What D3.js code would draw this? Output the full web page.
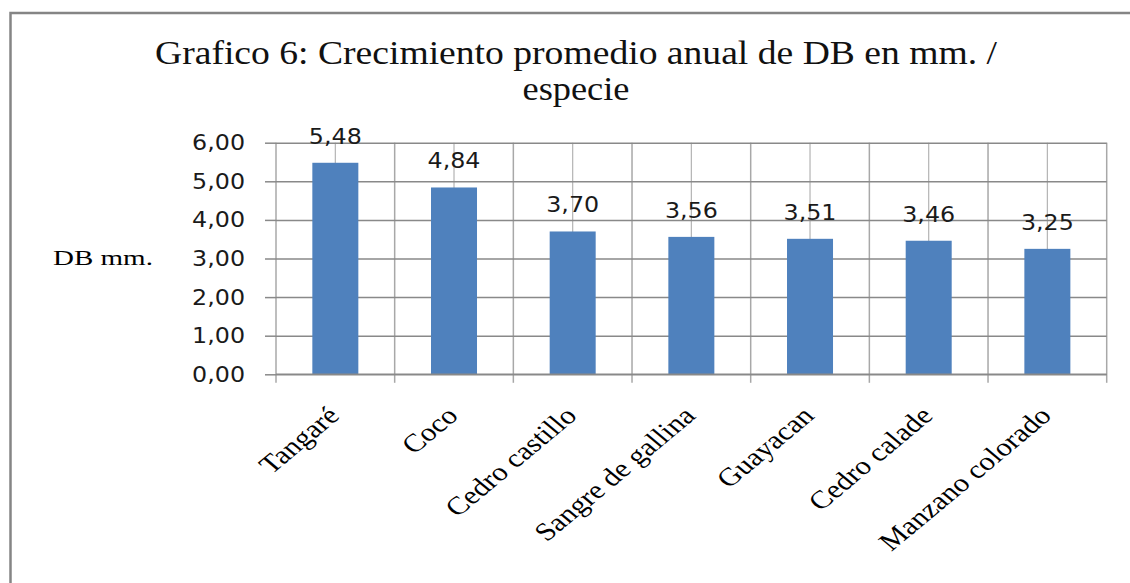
<!DOCTYPE html>
<html><head><meta charset="utf-8">
<script src="https://cdn.jsdelivr.net/npm/d3@7"></script>
<style>body{margin:0;background:#fff}</style>
</head><body><svg id="c" width="1130" height="583"></svg>
<script>
const categories = ["Tangaré","Coco","Cedro castillo","Sangre de gallina","Guayacan","Cedro calade","Manzano colorado"];
const values = [5.48,4.84,3.70,3.56,3.51,3.46,3.25];
const yTicks = [0,1,2,3,4,5,6];
const titleLines = ["Grafico 6: Crecimiento promedio anual de DB en mm. /","especie"];
const yTitle = "DB mm.";

const svg = d3.select("#c");
svg.append("rect").attr("width",1130).attr("height",583).attr("fill","#fff");
svg.append("path").attr("d","M10.5,583 V13 H1130").attr("fill","none").attr("stroke","#858585").attr("stroke-width",2.5);

const x = d3.scaleBand().domain(categories).range([276,1106.7]).padding(0);
const y = d3.scaleLinear().domain([0,6]).range([374.3,142.7]);
const fmt = v => d3.format(".2f")(v).replace(".",",");
const [x0,x1] = x.range();

function stretch(sel, f){
  sel.each(function(){
    const L = this.getComputedTextLength();
    d3.select(this).attr("textLength", L*f).attr("lengthAdjust","spacingAndGlyphs");
  });
}

// vertical gridlines at band centers
svg.append("g").selectAll("line").data(categories).join("line")
  .attr("x1",d=>x(d)+x.bandwidth()/2).attr("x2",d=>x(d)+x.bandwidth()/2)
  .attr("y1",y(6)).attr("y2",y(0)).attr("stroke","#b4b4b4").attr("stroke-width",1.2);
// vertical boundaries with tick marks
const bounds = categories.map(c=>x(c)).concat([x1]);
svg.append("g").selectAll("line").data(bounds).join("line")
  .attr("x1",d=>d).attr("x2",d=>d)
  .attr("y1",y(6)).attr("y2",y(0)+8.5).attr("stroke","#a8a8a8").attr("stroke-width",1.5);

// horizontal gridlines + y axis
const yAxis = d3.axisLeft(y).tickValues(yTicks).tickSizeInner(-(x1-x0)).tickSizeOuter(0).tickFormat("");
const gy = svg.append("g").attr("transform",`translate(${x0},0)`).call(yAxis);
gy.select(".domain").remove();
gy.selectAll(".tick line").attr("stroke","#898989").attr("stroke-width",1.5);
const yAxis2 = d3.axisLeft(y).tickValues(yTicks).tickSize(11).tickPadding(20).tickFormat(fmt);
const gy2 = svg.append("g").attr("transform",`translate(${x0},0)`).call(yAxis2);
gy2.select(".domain").remove();
gy2.selectAll(".tick line").attr("stroke","#898989").attr("stroke-width",1.5);
gy2.selectAll(".tick text").attr("font-family","DejaVu Sans").attr("font-size",22).attr("fill","#1a1a1a").call(stretch,1.08);

// bars
const bw = 46;
svg.append("g").selectAll("rect").data(values).join("rect")
  .attr("x",(d,i)=>x(categories[i])+x.bandwidth()/2-bw/2)
  .attr("width",bw)
  .attr("y",d=>y(d)).attr("height",d=>y(0)-y(d))
  .attr("fill","#4F81BD");

// bottom axis line
svg.append("line").attr("x1",x0).attr("x2",x1).attr("y1",y(0)).attr("y2",y(0)).attr("stroke","#898989").attr("stroke-width",1.5);

// data labels
svg.append("g").selectAll("text").data(values).join("text")
  .attr("x",(d,i)=>x(categories[i])+x.bandwidth()/2)
  .attr("y",d=>y(d)-19)
  .attr("text-anchor","middle")
  .attr("font-family","DejaVu Sans").attr("font-size",22).attr("fill","#1a1a1a")
  .text(fmt).call(stretch,1.08);

// x labels
svg.append("g").selectAll("text").data(categories).join("text")
  .attr("transform",d=>`translate(${x(d)+x.bandwidth()/2-2},411) scale(1.2,1) rotate(-45)`)
  .attr("dy","0.35em")
  .attr("text-anchor","end")
  .attr("font-family","Liberation Serif").attr("font-size",25.5).attr("fill","#000")
  .text(d=>d);

// title
const titleWidths = [842,107];
svg.append("g").selectAll("text").data(titleLines).join("text")
  .attr("x",(d,i)=>576-titleWidths[i]/2).attr("y",(d,i)=>64+i*35.5)
  .attr("font-family","Liberation Serif").attr("font-size",33).attr("fill","#111")
  .attr("textLength",(d,i)=>titleWidths[i]).attr("lengthAdjust","spacingAndGlyphs")
  .text(d=>d);

// y title
svg.append("text").attr("x",53).attr("y",265)
  .attr("font-family","Liberation Serif").attr("font-size",20).attr("fill","#000")
  .text(yTitle).call(stretch,1.45);
</script>
</body></html>
